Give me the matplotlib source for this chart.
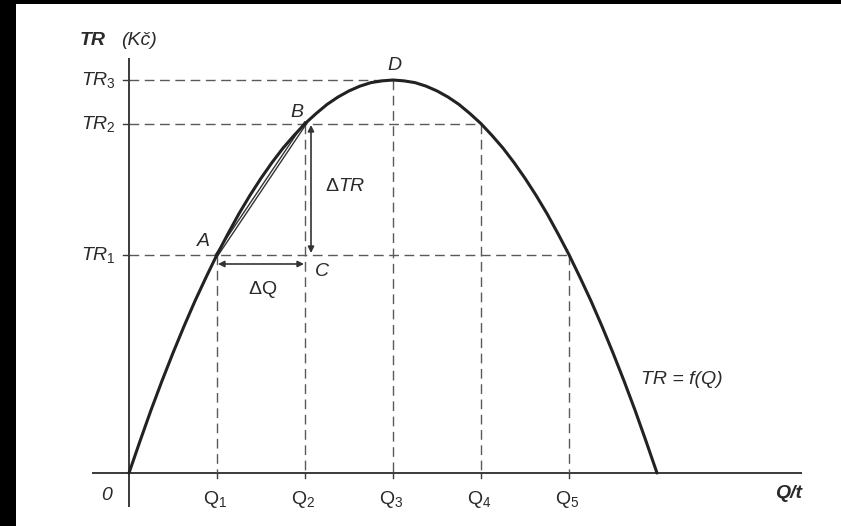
import matplotlib
matplotlib.use("Agg")
import matplotlib.pyplot as plt
import matplotlib.patheffects as pe
from matplotlib.patches import Rectangle

plt.rcParams['font.family'] = ['Liberation Sans', 'DejaVu Sans']
plt.rcParams['mathtext.fontset'] = 'custom'
plt.rcParams['mathtext.rm'] = 'Liberation Sans'
plt.rcParams['mathtext.it'] = 'Liberation Sans:italic'
plt.rcParams['mathtext.bf'] = 'Liberation Sans:bold:italic'

# ---- data ----
q_vals = [0, 0.125, 0.25, 0.375, 0.5, 0.625, 0.75, 0.875, 1, 1.125, 1.25, 1.375,
          1.5, 1.625, 1.75, 1.875, 2, 2.125, 2.25, 2.375, 2.5, 2.625, 2.75, 2.875, 3,
          3.125, 3.25, 3.375, 3.5, 3.625, 3.75, 3.875, 4, 4.125, 4.25, 4.375,
          4.5, 4.625, 4.75, 4.875, 5, 5.125, 5.25, 5.375, 5.5, 5.625, 5.75, 5.875, 6]
tr_vals = [0, 0.73, 1.44, 2.11, 2.75, 3.36, 3.94, 4.48, 5, 5.48, 5.94, 6.36,
           6.75, 7.11, 7.44, 7.73, 8, 8.23, 8.44, 8.61, 8.75, 8.86, 8.94, 8.98, 9,
           8.98, 8.94, 8.86, 8.75, 8.61, 8.44, 8.23, 8, 7.73, 7.44, 7.11,
           6.75, 6.36, 5.94, 5.48, 5, 4.48, 3.94, 3.36, 2.75, 2.11, 1.44, 0.73, 0]
q_ticks = [1, 2, 3, 4, 5]
q_labels = [r'$\mathrm{Q}_{\mathit{1}}$', r'$\mathrm{Q}_{\mathit{2}}$',
            r'$\mathrm{Q}_{\mathit{3}}$', r'$\mathrm{Q}_{\mathit{4}}$',
            r'$\mathrm{Q}_{\mathit{5}}$']
tr_levels = [5, 8, 9]
tr_labels = [r'$TR_{\mathit{1}}$', r'$TR_{\mathit{2}}$', r'$TR_{\mathit{3}}$']
tr_guide_end = [5, 4, 3]
pA = (1, 5)
pB = (2, 8)
pC = (2, 5)
pD = (3, 9)

# ---- layout (pixel mapping) ----
W, H = 841, 526
X0, Y0 = 129, 473
SX, SY = 88.0, 393.0 / 9
LEFT_BLACK, TOP_BLACK = 16, 4

def qx(px):
    return (px - X0) / SX

def ty(py):
    return (Y0 - py) / SY

fig = plt.figure(figsize=(W / 100, H / 100), dpi=100, facecolor='white')
fig.patches.append(Rectangle((0, 0), LEFT_BLACK / W, 1, transform=fig.transFigure,
                             facecolor='black', edgecolor='none', zorder=0))
fig.patches.append(Rectangle((0, 1 - TOP_BLACK / H), 1, TOP_BLACK / H,
                             transform=fig.transFigure, facecolor='black',
                             edgecolor='none', zorder=0))
ax = fig.add_axes([0, 0, 1, 1])
ax.set_xlim(qx(0), qx(W))
ax.set_ylim(ty(H), ty(0))
ax.axis('off')

dark = '#222222'
gray = '#5a5a5a'
txt = '#2a2a2a'
fs = 14

ax.plot([qx(92), qx(802)], [0, 0], color='#3a3a3a', lw=1.4, solid_capstyle='butt')
ax.plot([0, 0], [ty(507), ty(58)], color='#3a3a3a', lw=1.4, solid_capstyle='butt')

dash = dict(color=gray, lw=1.0, dashes=(7, 4))
for lev, qend in zip(tr_levels, tr_guide_end):
    ax.plot([0, qend], [lev, lev], **dash)
    ax.plot([qx(X0 - 6), 0], [lev, lev], color='#3a3a3a', lw=1.0)
for qt in q_ticks:
    top = tr_vals[q_vals.index(qt)]
    ax.plot([qt, qt], [top, 0], **dash)
    ax.plot([qt, qt], [0, ty(Y0 + 5)], color='#3a3a3a', lw=1.0)

ax.plot([pA[0], pB[0]], [pA[1], pB[1]], color='white', lw=0.8,
        path_effects=[pe.Stroke(linewidth=2.8, foreground='#333333'), pe.Normal()])

ax.plot(q_vals, tr_vals, color=dark, lw=2.2, solid_capstyle='round', solid_joinstyle='round')

arr = dict(arrowstyle='<|-|>', color='#333333', lw=1.2, mutation_scale=9,
           shrinkA=0, shrinkB=0)
ax.annotate('', xy=(qx(311), ty(125)), xytext=(qx(311), ty(253)), arrowprops=arr)
ax.annotate('', xy=(qx(218), ty(264)), xytext=(qx(304), ty(264)), arrowprops=arr)

for lev, lab in zip(tr_levels, tr_labels):
    ax.text(qx(116), lev, lab, ha='right', va='center', fontsize=fs, color=txt)
for qt, lab in zip(q_ticks, q_labels):
    ax.text(qt + qx(X0 - 2), ty(499), lab, ha='center', va='center', fontsize=fs, color=txt)

ax.text(qx(80), ty(40), 'TR', ha='left', va='center', fontsize=fs, color=txt,
        fontweight='bold', fontstyle='italic')
ax.text(qx(121), ty(40), '(Kč)', ha='left', va='center', fontsize=fs, color=txt,
        fontstyle='italic')
ax.text(qx(802), ty(494), 'Q/t', ha='right', va='center', fontsize=fs, color=txt,
        fontweight='bold', fontstyle='italic')
ax.text(qx(107), ty(496), '0', ha='center', va='center', fontsize=fs, color=txt,
        fontstyle='italic')

ax.text(qx(203), ty(241), 'A', ha='center', va='center', fontsize=fs, color=txt, fontstyle='italic')
ax.text(qx(297), ty(112), 'B', ha='center', va='center', fontsize=fs, color=txt, fontstyle='italic')
ax.text(qx(322), ty(272), 'C', ha='center', va='center', fontsize=fs, color=txt, fontstyle='italic')
ax.text(qx(394), ty(65), 'D', ha='center', va='center', fontsize=fs, color=txt, fontstyle='italic')
ax.text(qx(345), ty(186), r'$\mathrm{\Delta}TR$', ha='center', va='center', fontsize=fs, color=txt)
ax.text(qx(263), ty(289), r'$\mathrm{\Delta Q}$', ha='center', va='center', fontsize=fs, color=txt)
ax.text(qx(641), ty(380), 'TR = f(Q)', ha='left', va='center', fontsize=fs, color=txt,
        fontstyle='italic')

fig.savefig('out.png', dpi=100, facecolor='white')
